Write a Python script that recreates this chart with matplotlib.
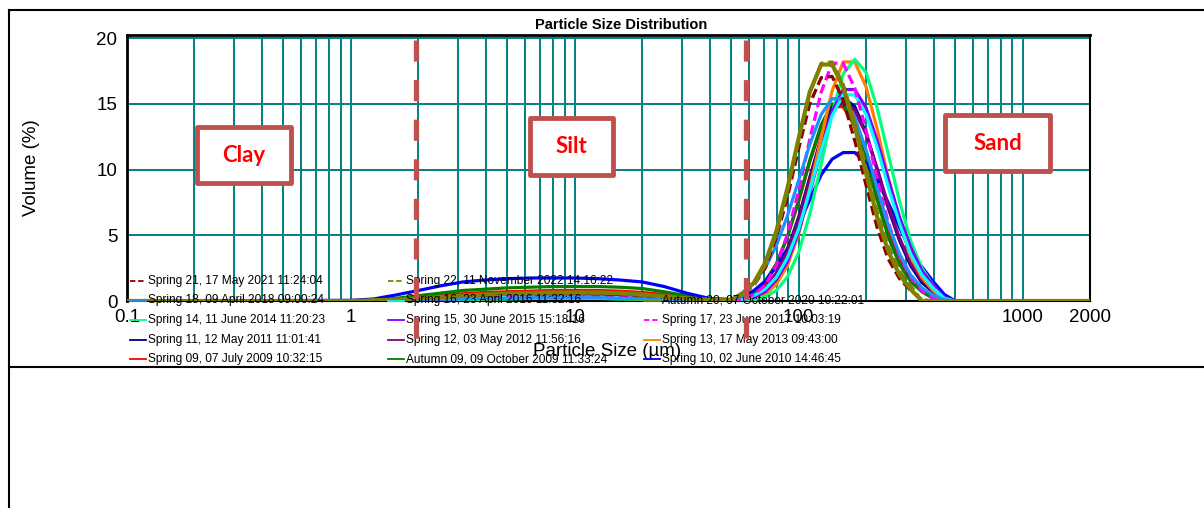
import matplotlib
matplotlib.use('Agg')
import matplotlib.pyplot as plt
import matplotlib.transforms as mtransforms
from matplotlib.lines import Line2D
from matplotlib.patches import Rectangle
from matplotlib.ticker import FixedLocator, FixedFormatter, LogLocator, NullFormatter

W, H = 1204, 508
plt.rcParams['font.family'] = ['Liberation Sans', 'DejaVu Sans']

# particle size bins (um)
sizes = [0.1, 1.0, 1.26, 1.58, 2.0, 2.51, 3.16, 3.98, 5.01, 6.31, 7.94, 10.0, 12.6, 15.8,
         20.0, 25.1, 31.6, 39.8, 50.1, 56.2, 63.1, 70.8, 79.4, 89.1, 100, 112, 126, 141,
         158, 178, 200, 224, 251, 282, 316, 355, 398, 447, 501, 2000]

# volume (%) per sample
spring09 = [0, 0, 0.05, 0.15, 0.3, 0.45, 0.55, 0.65, 0.7, 0.75, 0.8, 0.8, 0.8, 0.75, 0.65, 0.5, 0.3, 0.1,
            0.1, 0.2, 0.7, 1.4, 2.8, 4.9, 7.6, 10.6, 13.2, 14.8, 14.8, 13.3, 10.8, 7.9, 5.2, 3.1, 1.7, 0.8, 0.3, 0, 0, 0]
autumn09 = [0, 0, 0.05, 0.2, 0.4, 0.6, 0.8, 0.9, 1.0, 1.05, 1.1, 1.1, 1.1, 1.05, 0.95, 0.7, 0.4, 0.15,
            0.1, 0.2, 0.7, 1.5, 2.8, 4.9, 7.7, 10.7, 13.4, 15.0, 15.0, 13.4, 10.7, 7.7, 4.9, 2.8, 1.5, 0.7, 0.2, 0, 0, 0]
spring10 = [0, 0.05, 0.15, 0.45, 0.8, 1.15, 1.45, 1.6, 1.7, 1.75, 1.75, 1.75, 1.7, 1.6, 1.45, 1.1, 0.6, 0.2,
            0.1, 0.3, 0.8, 1.5, 2.6, 4.0, 5.8, 7.7, 9.6, 10.8, 11.3, 11.3, 10.5, 9.2, 7.5, 5.6, 3.8, 2.6, 1.5, 0.5, 0, 0]
spring11 = [0, 0, 0, 0.1, 0.2, 0.3, 0.35, 0.4, 0.45, 0.5, 0.5, 0.5, 0.5, 0.45, 0.4, 0.3, 0.15, 0.05,
            0.05, 0.1, 0.4, 1.0, 2.1, 3.9, 6.4, 9.4, 12.4, 14.7, 15.5, 14.8, 12.8, 10.0, 7.1, 4.6, 2.7, 1.4, 0.7, 0.2, 0, 0]
spring12 = [0, 0, 0, 0.05, 0.15, 0.2, 0.3, 0.35, 0.4, 0.4, 0.45, 0.45, 0.45, 0.4, 0.35, 0.25, 0.15, 0.05,
            0.05, 0.1, 0.4, 1.0, 2.1, 3.8, 6.2, 9.2, 12.2, 14.4, 15.2, 14.5, 12.7, 10.1, 7.3, 4.8, 2.9, 1.6, 0.8, 0.2, 0, 0]
spring13 = [0, 0, 0, 0, 0.05, 0.1, 0.15, 0.15, 0.2, 0.2, 0.2, 0.2, 0.2, 0.2, 0.15, 0.1, 0.05, 0,
            0, 0, 0.2, 0.5, 1.25, 2.7, 5.1, 8.5, 12.4, 16.0, 18.2, 18.2, 16.3, 13.1, 9.4, 6.0, 3.4, 1.8, 0.8, 0.1, 0, 0]
spring14 = [0, 0, 0, 0, 0.05, 0.1, 0.1, 0.15, 0.15, 0.2, 0.2, 0.2, 0.2, 0.15, 0.15, 0.1, 0.05, 0,
            0, 0, 0.1, 0.3, 0.8, 1.85, 3.7, 6.6, 10.4, 14.3, 17.3, 18.4, 17.4, 14.7, 11.2, 7.6, 4.6, 2.5, 1.2, 0.1, 0, 0]
spring15 = [0, 0, 0, 0.05, 0.1, 0.15, 0.2, 0.25, 0.3, 0.3, 0.3, 0.3, 0.3, 0.3, 0.25, 0.2, 0.1, 0.05,
            0.05, 0.1, 0.3, 0.7, 1.6, 3.0, 5.3, 8.2, 11.5, 14.4, 16.1, 16.1, 14.7, 12.2, 9.3, 6.4, 4.1, 2.3, 1.2, 0.3, 0, 0]
spring16 = [0, 0, 0.05, 0.1, 0.15, 0.2, 0.25, 0.25, 0.3, 0.3, 0.3, 0.3, 0.3, 0.25, 0.2, 0.15, 0.1, 0.05,
            0.05, 0.1, 0.4, 0.9, 1.8, 3.3, 5.5, 8.4, 11.5, 14.1, 15.7, 15.7, 14.2, 11.7, 8.7, 5.9, 3.6, 2.0, 1.0, 0.2, 0, 0]
spring17 = [0, 0, 0, 0.05, 0.1, 0.15, 0.2, 0.25, 0.3, 0.35, 0.35, 0.35, 0.35, 0.3, 0.25, 0.2, 0.1, 0.05,
            0.05, 0.1, 0.5, 1.2, 2.7, 5.1, 8.4, 12.3, 15.9, 18.1, 18.1, 16.2, 13.0, 9.3, 6.0, 3.4, 1.8, 0.8, 0.2, 0, 0, 0]
spring18 = [0, 0, 0, 0.05, 0.1, 0.15, 0.15, 0.2, 0.2, 0.25, 0.25, 0.25, 0.25, 0.2, 0.2, 0.15, 0.1, 0.05,
            0.1, 0.4, 1.4, 2.5, 4.2, 6.5, 9.2, 11.9, 14.2, 15.4, 15.4, 14.0, 11.5, 8.6, 5.8, 3.6, 2.0, 1.0, 0.45, 0.1, 0, 0]
spring21 = [0, 0, 0, 0.1, 0.2, 0.3, 0.4, 0.45, 0.5, 0.55, 0.6, 0.6, 0.55, 0.5, 0.4, 0.3, 0.15, 0.05,
            0.1, 0.5, 1.2, 2.5, 4.8, 7.9, 11.6, 15.0, 17.0, 17.1, 15.3, 12.2, 8.8, 5.6, 3.2, 1.7, 0.8, 0.1, 0, 0, 0, 0]
spring22 = [0, 0, 0.05, 0.1, 0.2, 0.3, 0.35, 0.45, 0.5, 0.55, 0.6, 0.6, 0.6, 0.55, 0.45, 0.3, 0.15, 0.05,
            0.1, 0.5, 1.2, 2.7, 5.1, 8.4, 12.3, 15.9, 18.1, 18.2, 16.5, 13.6, 10.1, 6.8, 4.2, 2.3, 1.2, 0, 0, 0, 0, 0]
autumn20 = [0, 0, 0.05, 0.1, 0.2, 0.3, 0.4, 0.5, 0.55, 0.6, 0.65, 0.65, 0.65, 0.6, 0.5, 0.35, 0.2, 0.1,
            0.1, 0.6, 1.4, 2.9, 5.3, 8.6, 12.4, 15.9, 18.0, 18.0, 16.3, 13.3, 9.7, 6.4, 3.8, 2.0, 0.9, 0, 0, 0, 0, 0]

labels = ["Spring 09, 07 July 2009 10:32:15", "Autumn 09, 09 October 2009 11:33:24",
          "Spring 10, 02 June 2010 14:46:45", "Spring 11, 12 May 2011 11:01:41",
          "Spring 12, 03 May 2012 11:56:16", "Spring 13, 17 May 2013 09:43:00",
          "Spring 14, 11 June 2014 11:20:23", "Spring 15, 30 June 2015 15:18:16",
          "Spring 16, 23 April 2016 11:32:16", "Spring 17, 23 June 2017 10:03:19",
          "Spring 18, 09 April 2018 09:00:24", "Spring 21, 17 May 2021 11:24:04",
          "Spring 22, 11 November 2022 14:16:22", "Autumn 20, 07 October 2020 10:22:01"]
series = [spring09, autumn09, spring10, spring11, spring12, spring13, spring14,
          spring15, spring16, spring17, spring18, spring21, spring22, autumn20]
colors = ['#FF0000', '#008000', '#0000FF', '#00008B', '#800080', '#FF8000', '#00FF7F',
          '#8000FF', '#00FFFF', '#FF00FF', '#1E90FF', '#8B0000', '#808000', '#808000']
dashed = [False, False, False, False, False, False, False,
          False, False, True, False, True, True, False]

# clay/silt and silt/sand limits (um)
boundaries = [1.95, 58]
zones = ['Clay', 'Silt', 'Sand']

fig = plt.figure(figsize=(W / 100, H / 100), dpi=100)


def fx(px):
    return px / W


def fy(py):
    return 1 - py / H


ax = fig.add_axes([fx(127), fy(301), fx(1090) - fx(127), fy(35) - fy(301)])
ax.set_xscale('log')
ax.set_xlim(0.1, 2000)
ax.set_ylim(0, 20.25)
xt = [0.1, 1, 10, 100, 1000, 2000]
ax.xaxis.set_major_locator(FixedLocator(xt))
ax.xaxis.set_major_formatter(FixedFormatter(['0.1', '1', '10', '100', '1000', '2000']))
ax.xaxis.set_minor_locator(LogLocator(base=10, subs=range(2, 10), numticks=20))
ax.xaxis.set_minor_formatter(NullFormatter())
ax.set_yticks([0, 5, 10, 15, 20])
ax.grid(True, which='both', axis='x', color='#008080', lw=1.4)
ax.grid(True, which='major', axis='y', color='#008080', lw=1.4)
ax.set_axisbelow(True)
ax.tick_params(which='both', length=0, labelsize=13.5)
ax.tick_params(axis='y', pad=7)
ax.tick_params(axis='x', pad=6)
for side in ['left', 'top']:
    ax.spines[side].set_linewidth(2)
for side in ['right', 'bottom']:
    ax.spines[side].set_linewidth(1.5)

for vals, c, d in zip(series, colors, dashed):
    ls = (0, (3, 1.4)) if d else '-'
    lw = 3.0 if c == '#808000' and not d else 2.3
    ax.plot(sizes, vals, color=c, lw=lw, ls=ls, zorder=3)

# clay / silt / sand limits
blend = mtransforms.blended_transform_factory(ax.transData, fig.transFigure)
for b in boundaries:
    fig.add_artist(Line2D([b, b], [fy(40), fy(347)], transform=blend, color='#C0504D',
                          lw=3.8, ls=(0, (4, 3.5)), zorder=6))

boxes = [(197, 127, 291, 183), (530, 118, 613, 175), (945, 115, 1050, 171)]
for name, (x0, y0, x1, y1) in zip(zones, boxes):
    fig.add_artist(Rectangle((fx(x0), fy(y1)), fx(x1) - fx(x0), fy(y0) - fy(y1),
                             transform=fig.transFigure, fc='white', ec='#C0504D',
                             lw=3.5, joinstyle='round', zorder=4))
    fig.text(fx((x0 + x1) / 2), fy((y0 + y1) / 2), name, color='#FF0000', size=16,
             weight='bold', ha='center', va='center', zorder=5,
             family=['Lato', 'Open Sans', 'DejaVu Sans'])

# legend, laid out by hand in three columns
col_x = [130, 388, 644]
row_y = [281, 300.5, 320, 339.5, 359]
slots = {11: (0, 0), 10: (0, 1), 6: (0, 2), 3: (0, 3), 0: (0, 4),
         12: (1, 0), 8: (1, 1), 7: (1, 2), 4: (1, 3), 1: (1, 4),
         13: (2, 1), 9: (2, 2), 5: (2, 3), 2: (2, 4)}
for i, (col, row) in slots.items():
    x, y = col_x[col], row_y[row]
    ls = (0, (3, 1.5)) if dashed[i] else '-'
    fig.add_artist(Line2D([fx(x), fx(x + 16)], [fy(y), fy(y)], color=colors[i],
                          lw=1.3, ls=ls, zorder=4))
    fig.text(fx(x + 18), fy(y), labels[i], size=8.6, ha='left', va='center', zorder=4)

fig.text(fx(621), fy(25), 'Particle Size Distribution', size=10.5, weight='bold',
         ha='center', va='center')
fig.text(fx(607), fy(352), 'Particle Size (µm)', size=13.5, ha='center', va='center')
fig.text(fx(32), fy(168), 'Volume (%)', size=13.5, rotation=90, ha='center', va='center')

# page frame around the chart
fig.add_artist(Line2D([fx(9), 1], [fy(10), fy(10)], color='black', lw=1.5))
fig.add_artist(Line2D([fx(9), fx(9)], [fy(10), 0], color='black', lw=1.5))
fig.add_artist(Line2D([fx(9), 1], [fy(367), fy(367)], color='black', lw=1.5))

fig.savefig('out.png', dpi=100)
